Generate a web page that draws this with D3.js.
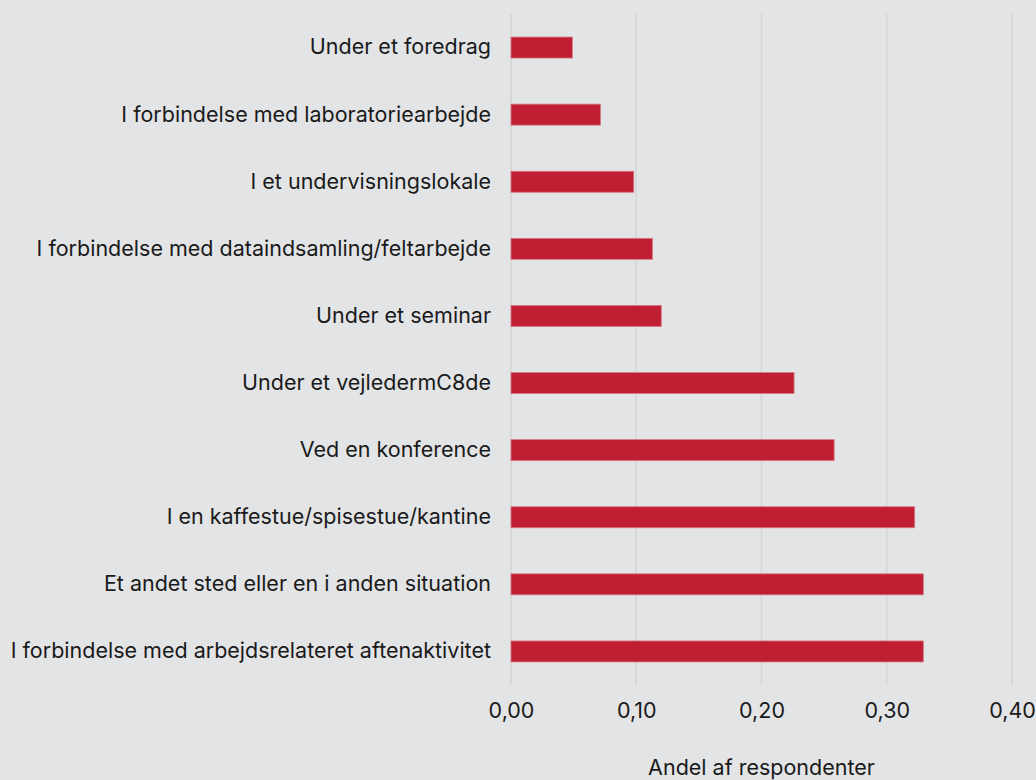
<!DOCTYPE html>
<html>
<head>
<meta charset="utf-8">
<script src="https://cdn.jsdelivr.net/npm/d3@7"></script>
<style>
  html, body { margin: 0; padding: 0; background: #e3e4e6; }
  svg { display: block; font-family: Inter, "Noto Sans", sans-serif; }
</style>
</head>
<body>
<svg id="chart"></svg>
<script>
// data, top to bottom
let categories = [
  "Under et foredrag",
  "I forbindelse med laboratoriearbejde",
  "I et undervisningslokale",
  "I forbindelse med dataindsamling/feltarbejde",
  "Under et seminar",
  "Under et vejledermC8de",
  "Ved en konference",
  "I en kaffestue/spisestue/kantine",
  "Et andet sted eller en i anden situation",
  "I forbindelse med arbejdsrelateret aftenaktivitet"
];
let values = [0.049, 0.0715, 0.098, 0.113, 0.12, 0.226, 0.258, 0.3223, 0.3292, 0.3292];
let xTicks = [0, 0.1, 0.2, 0.3, 0.4];
let xTitle = "Andel af respondenter";

let W = 1036, H = 780;
let margin = { top: 14, right: 24, bottom: 95, left: 511 };
let width = W - margin.left - margin.right;
let height = H - margin.top - margin.bottom;
let fontSize = 21.5;

let locale = d3.formatLocale({ decimal: ",", thousands: ".", grouping: [3], currency: ["", " kr."] });
let fmt = locale.format(".2f");

let x = d3.scaleLinear().domain([0, 0.4]).range([0, 1012 - margin.left]);
let y = d3.scaleBand().domain(categories).range([0, height])
  .paddingInner(0.687).paddingOuter(0.3435);

let svg = d3.select("#chart")
  .attr("width", W)
  .attr("height", H);

svg.append("rect").attr("width", W).attr("height", H).attr("fill", "#e3e4e6");

let g = svg.append("g")
  .attr("transform", "translate(" + margin.left + "," + margin.top + ")");

// gridlines
g.append("g").selectAll("line")
  .data(xTicks)
  .enter().append("line")
  .attr("x1", d => x(d)).attr("x2", d => x(d))
  .attr("y1", 0).attr("y2", height)
  .attr("stroke", "#d4d5d7")
  .attr("stroke-width", 1.5);

// bars
g.append("g").selectAll("rect")
  .data(values)
  .enter().append("rect")
  .attr("x", x(0))
  .attr("y", (d, i) => y(categories[i]))
  .attr("width", d => x(d) - x(0))
  .attr("height", y.bandwidth())
  .attr("fill", "#c01f33")
  .attr("stroke", "#d77885")
  .attr("stroke-width", 0.8);

// category labels
let yAxis = d3.axisLeft(y).tickSize(0).tickPadding(20);
g.append("g")
  .call(yAxis)
  .call(s => s.select(".domain").remove())
  .selectAll("text")
  .attr("font-size", fontSize)
  .attr("font-family", "Inter, sans-serif")
  .attr("fill", "#1a1a1a");

// x axis
let xAxis = d3.axisBottom(x).tickValues(xTicks).tickFormat(fmt).tickSize(0).tickPadding(18);
g.append("g")
  .attr("transform", "translate(0," + height + ")")
  .call(xAxis)
  .call(s => s.select(".domain").remove())
  .selectAll("text")
  .attr("font-size", fontSize)
  .attr("font-family", "Inter, sans-serif")
  .attr("fill", "#1a1a1a");

// axis title
g.append("text")
  .attr("x", x(0.2))
  .attr("y", 775 - margin.top)
  .attr("text-anchor", "middle")
  .attr("font-size", fontSize)
  .attr("fill", "#1a1a1a")
  .text(xTitle);
</script>
</body>
</html>
